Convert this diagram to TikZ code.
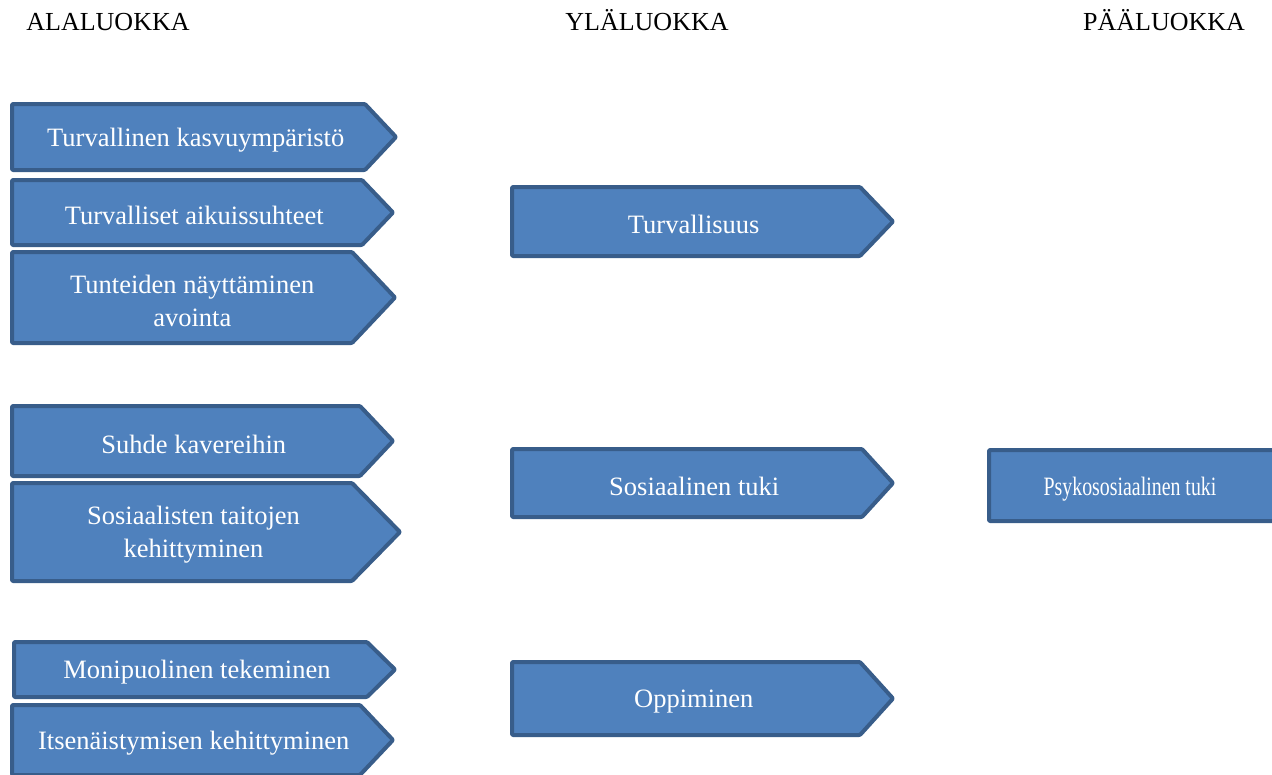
\documentclass[tikz,border=0pt]{standalone}
\usepackage{fontspec}
\usepackage{graphicx}
\setmainfont{Liberation Serif}
\definecolor{boxfill}{HTML}{4F81BD}
\definecolor{boxline}{HTML}{385D8A}
\tikzset{
  chevline/.style={draw=boxline, fill=boxfill, line width=4pt, line join=round, rounded corners=1pt},
  chevtext/.style={text=white, align=center, font=\fontsize{26.5}{33}\selectfont, inner sep=0pt, yshift=-3pt},
  headtext/.style={text=black, font=\fontsize{26}{33}\selectfont, inner sep=0pt, anchor=base}
}
\newcommand\chev[7]{%
  \draw[chevline] ({#2+2},{#3+2}) -- ({#4},{#3+2}) -- ({#5-2},{(#3+#6)/2}) -- ({#4},{#6-2}) -- ({#2+2},{#6-2}) -- cycle;
  \node[chevtext] (#1) at ({(#2+(#4+#5)/2)/2},{(#3+#6)/2}) {#7};
}
\begin{document}
\begin{tikzpicture}[x=1pt, y=-1pt]
\useasboundingbox (0,0) rectangle (1272,774);
% headers
\node[headtext] (h1) at (108,30) {ALALUOKKA};
\node[headtext] (h2) at (647,30) {YLÄLUOKKA};
\node[headtext] (h3) at (1164,30) {PÄÄLUOKKA};
% left column
\chev{a1}{10}{102}{365}{398}{172}{Turvallinen kasvuympäristö}
\chev{a2}{10}{178}{362}{395}{247}{Turvalliset aikuissuhteet}
\chev{a3}{10}{250}{352}{397}{345}{Tunteiden näyttäminen\\avointa}
\chev{b1}{10}{404}{360}{395}{478}{Suhde kavereihin}
\chev{b2}{10}{481}{352}{402}{583}{Sosiaalisten taitojen\\kehittyminen}
\chev{c1}{12}{640}{367}{397}{699}{Monipuolinen tekeminen}
\chev{c2}{10}{703}{360}{395}{777}{Itsenäistymisen kehittyminen}
% middle column
\chev{m1}{510}{185}{860}{895}{258}{Turvallisuus}
\chev{m2}{510}{447}{862}{895}{519}{Sosiaalinen tuki}
\chev{m3}{510}{660}{860}{895}{737}{Oppiminen}
% right box
\draw[chevline] (989,450) rectangle (1295,521);
\node[chevtext] (p1) at (1130,486) {\scalebox{0.75}[1]{Psykososiaalinen tuki}};
\end{tikzpicture}
\end{document}
